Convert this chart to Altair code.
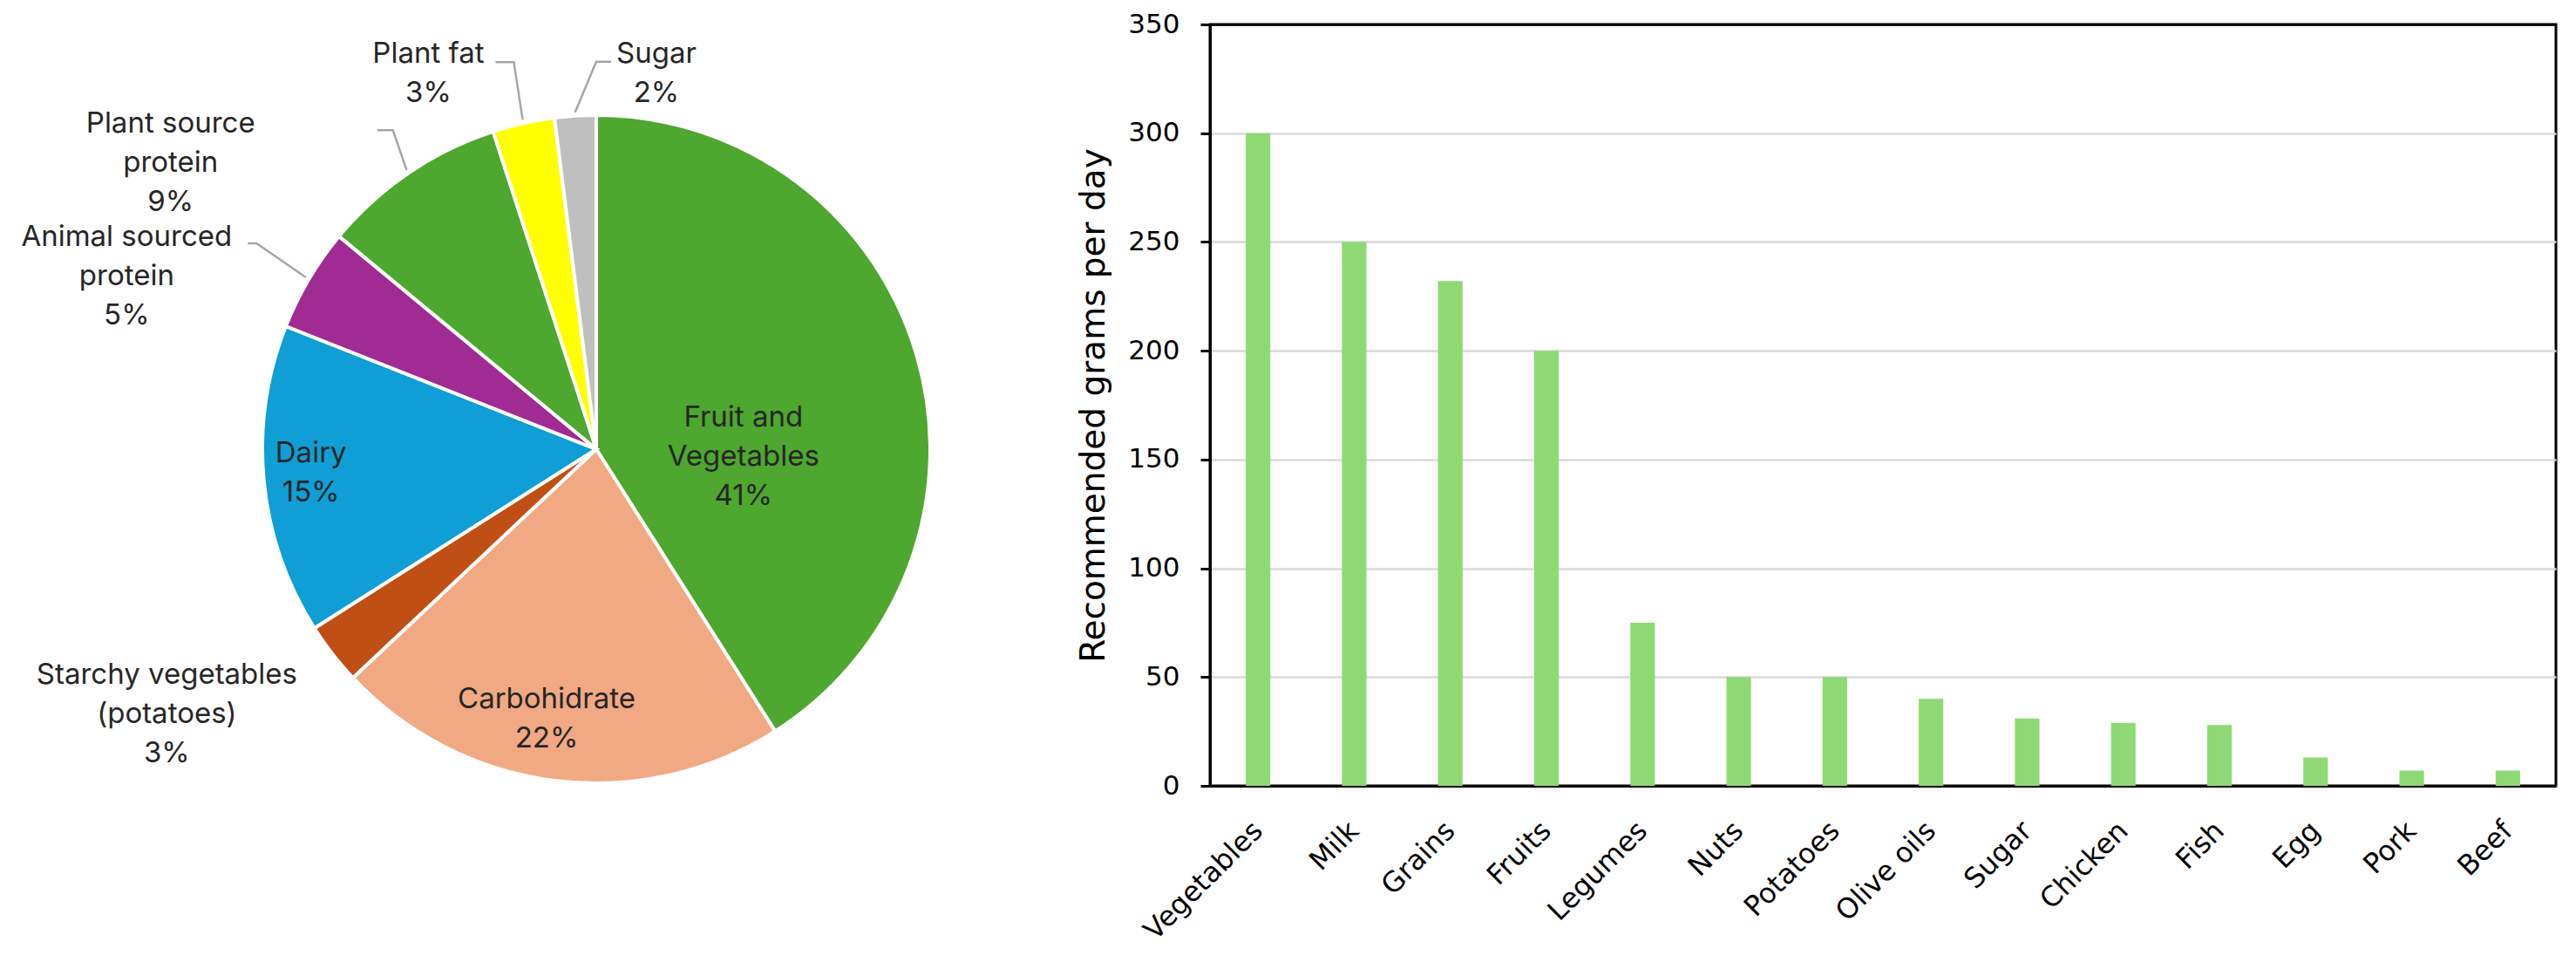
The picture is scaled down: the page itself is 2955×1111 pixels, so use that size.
import math
import altair as alt
import pandas as pd

# ---------------- data ----------------
PIE_CATEGORIES = [
    "Fruit and Vegetables", "Carbohidrate", "Starchy vegetables (potatoes)", "Dairy",
    "Animal sourced protein", "Plant source protein", "Plant fat", "Sugar",
]
PIE_LABEL_LINES = [
    "Fruit and\nVegetables", "Carbohidrate", "Starchy vegetables\n(potatoes)", "Dairy",
    "Animal sourced\nprotein", "Plant source\nprotein", "Plant fat", "Sugar",
]
PIE_SHARES = [41, 22, 3, 15, 5, 9, 3, 2]
PIE_COLORS = ["#4EA72E", "#F1A983", "#C04F15", "#0F9ED5", "#A02B93", "#4EA72E", "#FFFF00", "#BFBFBF"]

FOODS = ["Vegetables", "Milk", "Grains", "Fruits", "Legumes", "Nuts", "Potatoes",
         "Olive oils", "Sugar", "Chicken", "Fish", "Egg", "Pork", "Beef"]
GRAMS = [300, 250, 232, 200, 75, 50, 50, 40, 31, 29, 28, 13, 7, 7]
Y_TICKS = [0, 50, 100, 150, 200, 250, 300, 350]

# ---------------- layout / style ----------------
R = 383
PIE_W, PIE_H = 1350, 974
CX, CY = PIE_W / 2, PIE_H / 2
PIE_FONT = "Inter"
PIE_FONT_SIZE = 33
LINE_H = 45
BAR_FONT = "DejaVu Sans"

# label block-centre nudges (px) relative to the slice's mid-edge point
LABEL_NUDGE = {
    "Fruit and Vegetables": (-199, 116),
    "Carbohidrate": (-9, -70),
    "Starchy vegetables (potatoes)": (-190, 69),
    "Dairy": (54, -9),
    "Animal sourced protein": (-209, -3),
    "Plant source protein": (-273, -11),
    "Plant fat": (-109, -57),
    "Sugar": (93, -48),
}
# leader line elbow/end (px) relative to the slice's mid-edge point
LEADERS = {
    "Animal sourced protein": [(-60, -41), (-70, -41)],
    "Plant source protein": [(-18, -49), (-36, -49)],
    "Plant fat": [(-11, -70), (-32, -70)],
    "Sugar": [(24, -62), (41, -62)],
}

# ---------------- derived tables ----------------
total = float(sum(PIE_SHARES))
pie_df = pd.DataFrame({"cat": PIE_CATEGORIES, "share": PIE_SHARES, "idx": list(range(len(PIE_SHARES)))})

lab_rows, lead_rows = [], []
cum = 0.0
for cat, lines, share in zip(PIE_CATEGORIES, PIE_LABEL_LINES, PIE_SHARES):
    mid = (cum + share / 2.0) / total * 2 * math.pi
    cum += share
    ax, ay = R * math.sin(mid), -R * math.cos(mid)
    nx, ny = LABEL_NUDGE[cat]
    text = f"{lines}\n{share}%"
    n_lines = text.count("\n") + 1
    lab_rows.append({"cat": cat, "label": text, "lx": ax + nx,
                     "ly": ay + ny - (n_lines - 1) / 2.0 * LINE_H})
    if cat in LEADERS:
        sx, sy = (R + 4) * math.sin(mid), -(R + 4) * math.cos(mid)
        lead_rows.append({"cat": cat, "step": 0, "x": sx, "y": sy})
        for k, (dx, dy) in enumerate(LEADERS[cat]):
            lead_rows.append({"cat": cat, "step": k + 1, "x": ax + dx, "y": ay + dy})
lab_df = pd.DataFrame(lab_rows)
lead_df = pd.DataFrame(lead_rows)

xs = alt.Scale(domain=[-CX, CX], nice=False, zero=False)
ys = alt.Scale(domain=[-CY, CY], nice=False, zero=False, reverse=True)

arcs = alt.Chart(pie_df).mark_arc(outerRadius=R, stroke="white", strokeWidth=4).encode(
    theta=alt.Theta("share:Q", stack=True),
    order=alt.Order("idx:Q"),
    color=alt.Color("cat:N", scale=alt.Scale(domain=PIE_CATEGORIES, range=PIE_COLORS), legend=None),
)

leaders = alt.Chart(lead_df).mark_line(color="#A6A6A6", strokeWidth=2.5).encode(
    x=alt.X("x:Q", scale=xs, axis=None),
    y=alt.Y("y:Q", scale=ys, axis=None),
    detail="cat:N",
    order="step:Q",
)

labels = alt.Chart(lab_df).mark_text(
    font=PIE_FONT, fontSize=PIE_FONT_SIZE, lineHeight=LINE_H, lineBreak="\n", color="#262626",
    align="center", baseline="middle",
).encode(
    x=alt.X("lx:Q", scale=xs, axis=None),
    y=alt.Y("ly:Q", scale=ys, axis=None),
    text="label:N",
)

pie = alt.layer(arcs, leaders, labels).properties(
    width=PIE_W, height=PIE_H, view=alt.ViewBackground(stroke="transparent")
)

bar_df = pd.DataFrame({"food": FOODS, "grams": GRAMS})
bars = alt.Chart(bar_df).mark_bar(color="#8ED973").encode(
    x=alt.X(
        "food:N", sort=FOODS, title=None,
        scale=alt.Scale(paddingInner=0.745, paddingOuter=0.3725),
        axis=alt.Axis(
            labelAngle=-45, labelAlign="right", labelBaseline="middle",
            labelFont=BAR_FONT, labelFontSize=32, labelColor="black",
            ticks=False, domainColor="black", domainWidth=3, labelPadding=46,
        ),
    ),
    y=alt.Y(
        "grams:Q",
        scale=alt.Scale(domain=[0, 350], nice=False),
        axis=alt.Axis(
            values=Y_TICKS, title="Recommended grams per day",
            labelFont=BAR_FONT, labelFontSize=31, labelColor="black", labelPadding=24,
            tickColor="black", tickSize=11, tickWidth=3,
            domainColor="black", domainWidth=3,
            grid=True, gridWidth=2.5,
            gridColor={"condition": {"test": "datum.value >= 350", "value": "black"}, "value": "#D9D9D9"},
            titleFont=BAR_FONT, titleFontSize=39, titleFontWeight="normal", titleColor="black",
            titlePadding=19,
        ),
    ),
).properties(width=1544, height=873, view=alt.ViewBackground(stroke="black", strokeWidth=3))

chart = alt.hconcat(pie, bars, spacing=29, bounds="flush").properties(
    padding={"left": 0, "top": 2, "right": 0, "bottom": 0}
).configure_view(stroke="transparent")

chart.save("out.html", embed_options={"renderer": "svg", "actions": False})
